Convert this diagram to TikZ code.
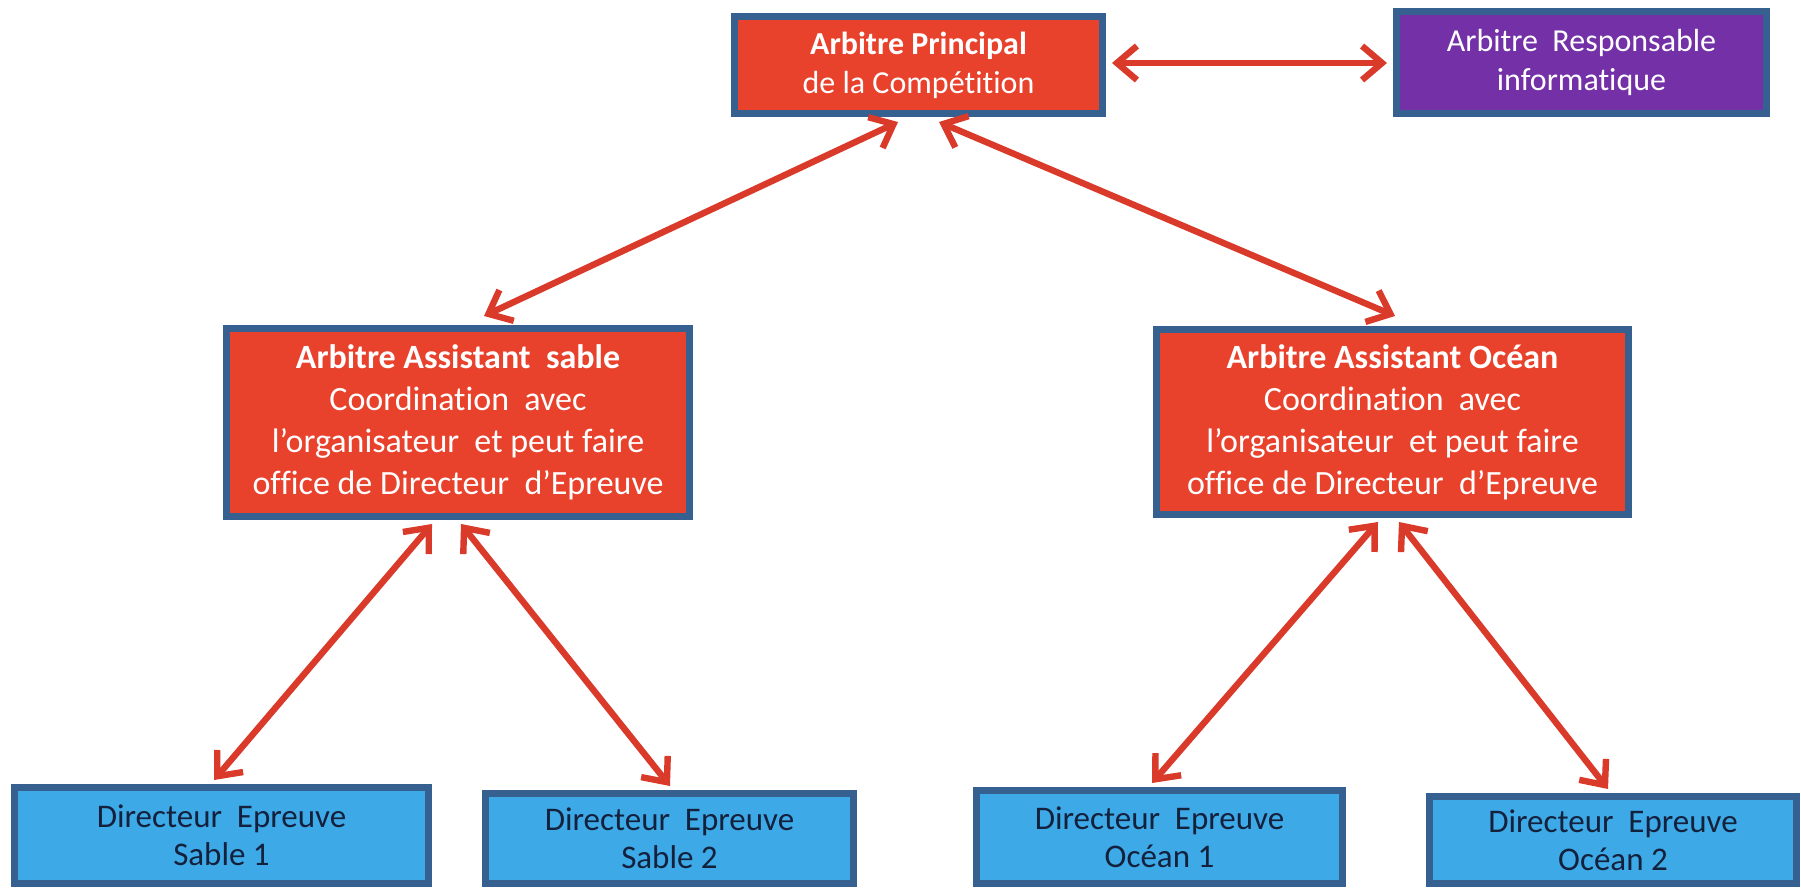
\documentclass[tikz,border=0pt]{standalone}
\usepackage{fontspec}
\setmainfont{Carlito}[Ligatures=NoCommon]
\usetikzlibrary{arrows.meta}
\definecolor{boxred}{HTML}{E8412C}
\definecolor{boxblue}{HTML}{3DA9E6}
\definecolor{boxpurple}{HTML}{7430A6}
\definecolor{edgeblue}{HTML}{35608F}
\definecolor{arrowred}{HTML}{DA3A2A}
\definecolor{navytext}{HTML}{14213D}
\newcommand{\dsp}{\hspace{0.45em}}
\tikzset{
  orgbox/.style={draw=edgeblue, line width=3.5pt, align=center, inner sep=2pt,
    font=\fontsize{16}{19.5}\selectfont},
  redbox/.style={orgbox, fill=boxred, text=white},
  purplebox/.style={orgbox, fill=boxpurple, text=white},
  bluebox/.style={orgbox, fill=boxblue, text=navytext, font=\fontsize{16.5}{19}\selectfont},
  assistbox/.style={redbox, font=\fontsize{17}{21}\selectfont},
  link/.style={draw=arrowred, line width=3.2pt,
    {Straight Barb[length=10pt,width=17pt]}-{Straight Barb[length=10pt,width=17pt]}}
}
\begin{document}
\begin{tikzpicture}[x=0.5pt,y=-0.5pt]
\useasboundingbox[fill=white] (0,0) rectangle (1801,889);
\node[redbox, minimum width=184pt, minimum height=48.5pt] (principal) at (918.5,65)
  {\textbf{Arbitre Principal}\\de la Compétition};
\node[purplebox, minimum width=185pt, minimum height=51pt] (info) at (1581.5,62.5)
  {Arbitre\dsp Responsable\\informatique};
\node[assistbox, minimum width=231.5pt, minimum height=94pt] (sableA) at (458,422.5)
  {\textbf{Arbitre Assistant\dsp sable}\\Coordination\dsp avec\\l’organisateur\dsp et peut faire\\office de Directeur\dsp d’Epreuve};
\node[assistbox, minimum width=236pt, minimum height=92.5pt] (oceanA) at (1392.5,422)
  {\textbf{Arbitre Assistant Océan}\\Coordination\dsp avec\\l’organisateur\dsp et peut faire\\office de Directeur\dsp d’Epreuve};
\node[bluebox, minimum width=207pt, minimum height=48pt] (s1) at (221.5,835.5)
  {Directeur\dsp Epreuve\\Sable 1};
\node[bluebox, minimum width=184pt, minimum height=45pt] (s2) at (669.5,838.5)
  {Directeur\dsp Epreuve\\Sable 2};
\node[bluebox, minimum width=183pt, minimum height=46.5pt] (o1) at (1159.5,837)
  {Directeur\dsp Epreuve\\Océan 1};
\node[bluebox, minimum width=183.5pt, minimum height=43.5pt] (o2) at (1613,840)
  {Directeur\dsp Epreuve\\Océan 2};

\draw[link] ([shift={(6,-2)}]principal.east) -- ([shift={(-6,0.5)}]info.west);
\draw[link] ([shift={(-20.5,5)}]principal.south) -- ([shift={(26,-9)}]sableA.north);
\draw[link] ([shift={(20.5,5)}]principal.south) -- ([shift={(2.5,-10)}]oceanA.north);
\draw[link] ([shift={(-26,4)}]sableA.south) -- ([shift={(-7.5,-4)}]s1.north);
\draw[link] ([shift={(3,4)}]sableA.south) -- ([shift={(0.5,-4)}]s2.north);
\draw[link] ([shift={(-14.5,4)}]oceanA.south) -- ([shift={(-7.5,-4)}]o1.north);
\draw[link] ([shift={(6.5,4)}]oceanA.south) -- ([shift={(-5,-4)}]o2.north);
\end{tikzpicture}
\end{document}
